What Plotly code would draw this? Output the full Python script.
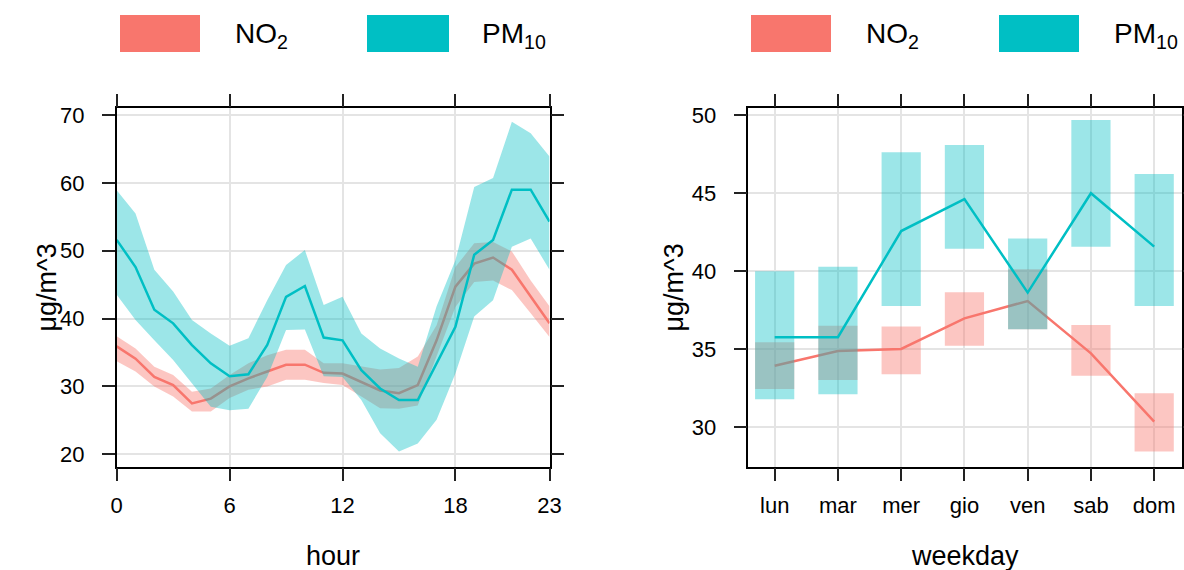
import plotly.graph_objects as go

# ---------------- data ----------------
hours = list(range(24))
no2_hour = [35.9, 34.1, 31.4, 30.2, 27.5, 28.2, 30.0, 31.2, 32.2, 33.2, 33.2, 32.0,
            31.9, 30.7, 29.4, 29.0, 30.2, 36.8, 44.7, 48.1, 49.0, 47.2, 43.2, 39.3]
no2_hour_lo = [33.7, 32.2, 30.0, 28.5, 26.3, 26.3, 28.3, 29.5, 30.0, 31.0, 31.0, 30.5,
               30.2, 28.5, 26.8, 26.7, 27.2, 34.4, 41.7, 45.4, 45.6, 44.2, 40.8, 37.3]
no2_hour_hi = [37.4, 35.6, 32.9, 31.7, 29.2, 29.7, 31.7, 33.4, 34.6, 35.4, 35.4, 33.4,
               33.4, 33.0, 32.5, 32.7, 34.4, 39.0, 47.6, 51.1, 51.3, 49.9, 45.6, 41.8]
pm10_hour = [51.6, 47.6, 41.3, 39.3, 36.1, 33.4, 31.5, 31.8, 36.1, 43.2, 44.8, 37.2,
             36.8, 32.4, 29.7, 28.0, 28.0, 33.4, 38.8, 49.4, 51.6, 59.0, 59.0, 54.3]
pm10_hour_lo = [43.5, 39.8, 36.8, 33.9, 30.5, 27.0, 26.5, 26.7, 31.4, 38.3, 38.4, 31.5,
                31.4, 28.0, 23.1, 20.4, 21.6, 25.1, 31.9, 40.3, 42.7, 50.6, 51.8, 47.2]
pm10_hour_hi = [58.9, 55.5, 47.2, 44.0, 39.8, 37.8, 36.0, 37.1, 42.7, 47.9, 50.1, 42.0,
                43.2, 37.8, 35.6, 34.1, 32.9, 41.8, 48.6, 59.4, 60.7, 69.0, 67.3, 63.9]

days = ["lun", "mar", "mer", "gio", "ven", "sab", "dom"]
no2_day = [33.95, 34.89, 35.02, 36.98, 38.09, 34.74, 30.37]
no2_day_lo = [32.46, 33.03, 33.40, 35.23, 36.28, 33.30, 28.45]
no2_day_hi = [35.45, 36.50, 36.45, 38.65, 40.12, 36.56, 32.18]
pm10_day = [35.77, 35.77, 42.57, 44.62, 38.63, 44.99, 41.57]
pm10_day_lo = [31.80, 32.12, 37.77, 41.44, 36.28, 41.57, 37.77]
pm10_day_hi = [40.00, 40.29, 47.61, 48.08, 42.10, 49.68, 46.22]

hour_ticks = [0, 6, 12, 18, 23]

# ---------------- style ----------------
W, H = 1184, 570
RED = "#F8766D"
CYAN = "#00BFC4"
RED_F = "rgba(248,118,109,0.42)"
CYAN_F = "rgba(0,191,196,0.39)"
FONT = "Liberation Sans, Arial, sans-serif"
GRID = "#E4E4E4"


def px(x):
    return x / W


def py(y):
    return 1 - y / H


fig = go.Figure()

# ---- left panel: hour ----
fig.add_trace(go.Scatter(x=hours + hours[::-1], y=no2_hour_hi + no2_hour_lo[::-1],
                         fill="toself", fillcolor=RED_F, line=dict(width=0),
                         mode="lines", hoverinfo="skip", showlegend=False,
                         xaxis="x", yaxis="y"))
fig.add_trace(go.Scatter(x=hours, y=no2_hour, mode="lines",
                         line=dict(color=RED, width=2.5), showlegend=False,
                         xaxis="x", yaxis="y"))
fig.add_trace(go.Scatter(x=hours + hours[::-1], y=pm10_hour_hi + pm10_hour_lo[::-1],
                         fill="toself", fillcolor=CYAN_F, line=dict(width=0),
                         mode="lines", hoverinfo="skip", showlegend=False,
                         xaxis="x", yaxis="y"))
fig.add_trace(go.Scatter(x=hours, y=pm10_hour, mode="lines",
                         line=dict(color=CYAN, width=2.5), showlegend=False,
                         xaxis="x", yaxis="y"))

# ---- right panel: weekday ----
half = 0.31
xpos = list(range(1, len(days) + 1))


def rects(lo, hi):
    xs, ys = [], []
    for i, a, b in zip(xpos, lo, hi):
        xs += [i - half, i + half, i + half, i - half, i - half, None]
        ys += [a, a, b, b, a, None]
    return xs, ys


rx, ry = rects(no2_day_lo, no2_day_hi)
fig.add_trace(go.Scatter(x=rx, y=ry, fill="toself", fillcolor=RED_F,
                         line=dict(width=0), mode="lines", hoverinfo="skip",
                         showlegend=False, xaxis="x2", yaxis="y2"))
fig.add_trace(go.Scatter(x=xpos, y=no2_day, mode="lines",
                         line=dict(color=RED, width=2.5), showlegend=False,
                         xaxis="x2", yaxis="y2"))
rx, ry = rects(pm10_day_lo, pm10_day_hi)
fig.add_trace(go.Scatter(x=rx, y=ry, fill="toself", fillcolor=CYAN_F,
                         line=dict(width=0), mode="lines", hoverinfo="skip",
                         showlegend=False, xaxis="x2", yaxis="y2"))
fig.add_trace(go.Scatter(x=xpos, y=pm10_day, mode="lines",
                         line=dict(color=CYAN, width=2.5), showlegend=False,
                         xaxis="x2", yaxis="y2"))

axis_common = dict(showline=True, linecolor="black", linewidth=1.5, mirror="ticks",
                   ticks="outside", ticklen=13, tickwidth=1.5, tickcolor="#222",
                   showgrid=True, gridcolor=GRID, gridwidth=1.5, zeroline=False,
                   tickfont=dict(family=FONT, size=22, color="black"))
xcommon = dict(axis_common, ticklabelstandoff=5)
ycommon = dict(axis_common, ticklabelstandoff=13)

ytop, ybot = 108.3, 466.7
fig.update_layout(
    width=W, height=H,
    margin=dict(l=0, r=0, t=0, b=0, autoexpand=False),
    paper_bgcolor="white", plot_bgcolor="white",
    showlegend=False,
    xaxis=dict(domain=[px(116.7), px(549.5)], range=[0, 23], tickvals=hour_ticks,
               anchor="y", **xcommon),
    yaxis=dict(domain=[py(ybot), py(ytop)], range=[18.17, 70.99],
               tickvals=[20, 30, 40, 50, 60, 70], anchor="x", **ycommon),
    xaxis2=dict(domain=[px(748.3), px(1181.7)], range=[0.583, 7.435], tickvals=xpos,
                ticktext=days, anchor="y2", **xcommon),
    yaxis2=dict(domain=[py(ybot), py(ytop)], range=[27.48, 50.43],
                tickvals=[30, 35, 40, 45, 50], anchor="x2", **ycommon),
)

# ---- axis titles ----
tfont = dict(family=FONT, size=27, color="black")
ann = [
    dict(text="μg/m^3", x=px(46), y=py(287.5), textangle=-90),
    dict(text="μg/m^3", x=px(673), y=py(287.5), textangle=-90),
    dict(text="hour", x=px(333), y=py(556)),
    dict(text="weekday", x=px(965), y=py(556)),
]
for a in ann:
    fig.add_annotation(xref="paper", yref="paper", showarrow=False,
                       xanchor="center", yanchor="middle", font=tfont, **a)

# ---- key (legend) above each panel ----
lfont = dict(family=FONT, size=28, color="black")
keys = [
    (120, 200, 233, "NO<sub>2</sub>", RED),
    (367, 449, 480, "PM<sub>10</sub>", CYAN),
    (751, 831, 864, "NO<sub>2</sub>", RED),
    (999, 1079, 1112, "PM<sub>10</sub>", CYAN),
]
for x0, x1, xt, label, col in keys:
    fig.add_shape(type="rect", xref="paper", yref="paper",
                  x0=px(x0), x1=px(x1), y0=py(52), y1=py(15),
                  fillcolor=col, line=dict(width=0))
    fig.add_annotation(xref="paper", yref="paper", showarrow=False,
                       x=px(xt), y=py(36), xanchor="left", yanchor="middle",
                       text=label, font=lfont)

fig.write_html(
    "out.html",
    config={"displayModeBar": False},
    post_script="document.body.style.margin='0';document.body.style.overflow='hidden';",
)
